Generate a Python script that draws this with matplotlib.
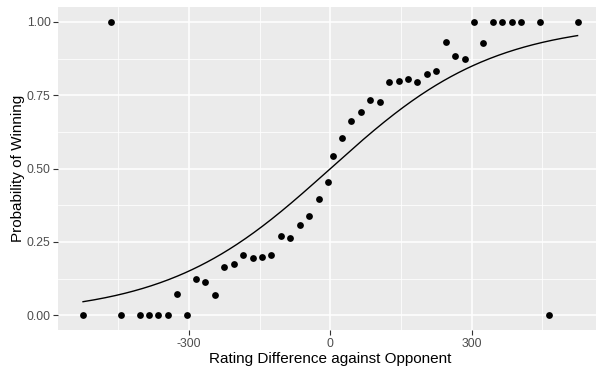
import numpy as np
import matplotlib
matplotlib.use("Agg")
import matplotlib.pyplot as plt

# Data
rating_diff = [-525, -465, -445, -405, -385, -365, -345, -325, -305, -285, -265, -245,
               -225, -205, -185, -165, -145, -125, -105, -85, -65, -45, -25, -5,
               5, 25, 45, 65, 85, 105, 125, 145, 165, 185, 205, 225, 245, 265,
               285, 305, 325, 345, 365, 385, 405, 445, 465, 525]
win_prob = [0.0, 1.0, 0.0, 0.0, 0.0, 0.0, 0.0, 0.0714, 0.0, 0.125, 0.115, 0.068,
            0.166, 0.176, 0.204, 0.194, 0.200, 0.204, 0.272, 0.265, 0.308, 0.337, 0.395, 0.456,
            0.544, 0.605, 0.663, 0.692, 0.735, 0.728, 0.796, 0.800, 0.806, 0.796, 0.824, 0.834,
            0.932, 0.885, 0.875, 1.0, 0.9286, 1.0, 1.0, 1.0, 1.0, 1.0, 0.0, 1.0]
x_ticks = [-300, 0, 300]
x_tick_labels = ["-300", "0", "300"]
y_ticks = [0.0, 0.25, 0.5, 0.75, 1.0]
y_tick_labels = ["0.00", "0.25", "0.50", "0.75", "1.00"]

plt.rcParams['font.family'] = ['Liberation Sans', 'DejaVu Sans']

W, H = 596, 367
dpi = 100
fig = plt.figure(figsize=(W / dpi, H / dpi), dpi=dpi)

# panel in pixel coordinates (right edge runs past the image edge as in reference)
left_px, right_px = 58.3, 602.3
top_px, bottom_px = 7.3, 330.0
ax = fig.add_axes([left_px / W, 1 - bottom_px / H,
                   (right_px - left_px) / W, (bottom_px - top_px) / H])

ax.set_facecolor('#EBEBEB')
for s in ax.spines.values():
    s.set_visible(False)

xr = max(rating_diff) - min(rating_diff)
ax.set_xlim(min(rating_diff) - 0.05 * xr, max(rating_diff) + 0.05 * xr)
ax.set_ylim(-0.05, 1.05)

ax.set_xticks(x_ticks)
ax.set_xticklabels(x_tick_labels)
ax.set_yticks(y_ticks)
ax.set_yticklabels(y_tick_labels)
ax.set_xticks([-450, -150, 150, 450], minor=True)
ax.set_yticks([0.125, 0.375, 0.625, 0.875], minor=True)

ax.grid(which='major', color='white', linewidth=1.1)
ax.grid(which='minor', color='white', linewidth=0.55)
ax.set_axisbelow(True)

ax.tick_params(which='major', length=3.5, width=0.8, color='#333333',
               labelsize=8.8, labelcolor='#4D4D4D', pad=2)
ax.tick_params(which='minor', length=0)

# Elo expected-score curve over the data range
xs = np.linspace(min(rating_diff), max(rating_diff), 400)
ax.plot(xs, 1 / (1 + 10 ** (-xs / 400)), color='black', linewidth=1.0, zorder=3)

ax.scatter(rating_diff, win_prob, s=24, color='black', zorder=4, linewidths=0)

ax.set_xlabel("Rating Difference against Opponent", fontsize=11, color='black', labelpad=2)
ax.set_ylabel("Probability of Winning", fontsize=11, color='black', labelpad=1.5)

fig.savefig("out.png", dpi=dpi)
